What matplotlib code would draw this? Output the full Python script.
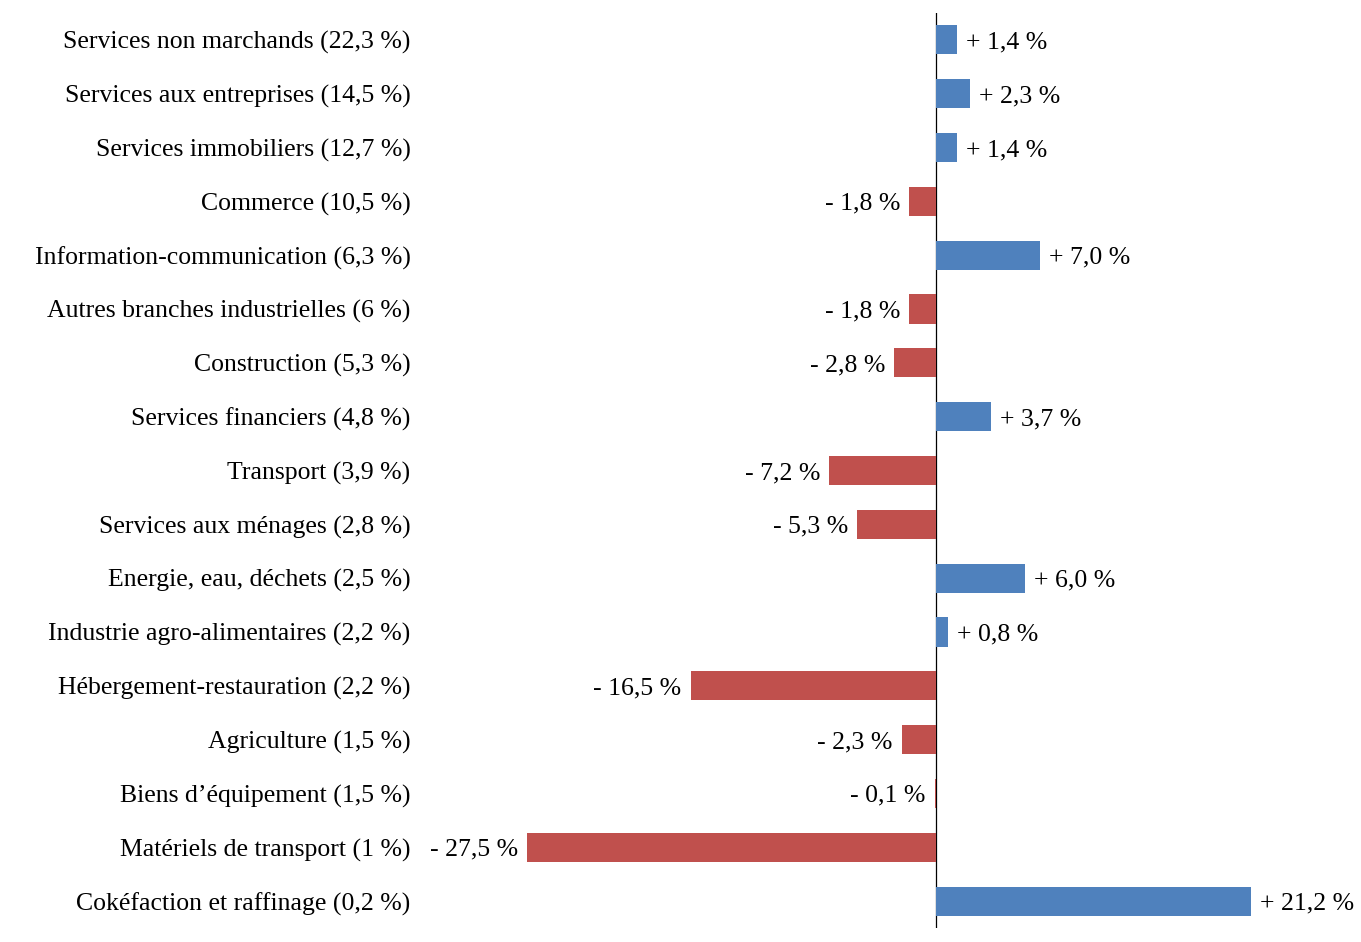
import matplotlib
matplotlib.use("Agg")
import matplotlib.pyplot as plt

# branches (weight in value added) and change in %
branches = ["Services non marchands", "Services aux entreprises", "Services immobiliers",
            "Commerce", "Information-communication", "Autres branches industrielles",
            "Construction", "Services financiers", "Transport", "Services aux ménages",
            "Energie, eau, déchets", "Industrie agro-alimentaires", "Hébergement-restauration",
            "Agriculture", "Biens d\u2019équipement", "Matériels de transport",
            "Cokéfaction et raffinage"]
shares = ["22,3", "14,5", "12,7", "10,5", "6,3", "6", "5,3", "4,8", "3,9", "2,8",
          "2,5", "2,2", "2,2", "1,5", "1,5", "1", "0,2"]
changes = [1.4, 2.3, 1.4, -1.8, 7.0, -1.8, -2.8, 3.7, -7.2, -5.3, 6.0, 0.8,
           -16.5, -2.3, -0.1, -27.5, 21.2]

blue = "#4F81BD"
red = "#C0504D"
plt.rcParams["font.family"] = ["Liberation Serif", "DejaVu Serif"]
fs = 18.5

fig = plt.figure(figsize=(13.61, 9.42), dpi=100)
W, H = 1361, 942
left, right, top, bottom = 430, 1355, 13, 928
ax = fig.add_axes([left / W, 1 - bottom / H, (right - left) / W, (bottom - top) / H])

pos = list(range(len(changes)))
colors = [blue if v >= 0 else red for v in changes]
ax.barh(pos, changes, height=0.54, color=colors, zorder=3)

ax.set_ylim(len(changes) - 0.5, -0.5)
px = 14.87  # pixels per percentage point
ax.set_xlim((left - 936) / px, (right - 936) / px)
ax.axvline(0.03, color="black", linewidth=0.9, zorder=2)

for p, v in zip(pos, changes):
    txt = ("+ " if v >= 0 else "- ") + f"{abs(v):.1f}".replace(".", ",") + " %"
    ax.annotate(txt, (v, p), xytext=(6.5 if v >= 0 else -6.5, 0), textcoords="offset points",
                ha="left" if v >= 0 else "right", va="center_baseline", fontsize=fs)

ax.set_yticks(pos)
ax.set_yticklabels([f"{b} ({s} %)" for b, s in zip(branches, shares)], fontsize=fs)
ax.tick_params(axis="y", length=0, pad=14)
ax.set_xticks([])
for s in ax.spines.values():
    s.set_visible(False)

fig.savefig("out.png", dpi=100)
